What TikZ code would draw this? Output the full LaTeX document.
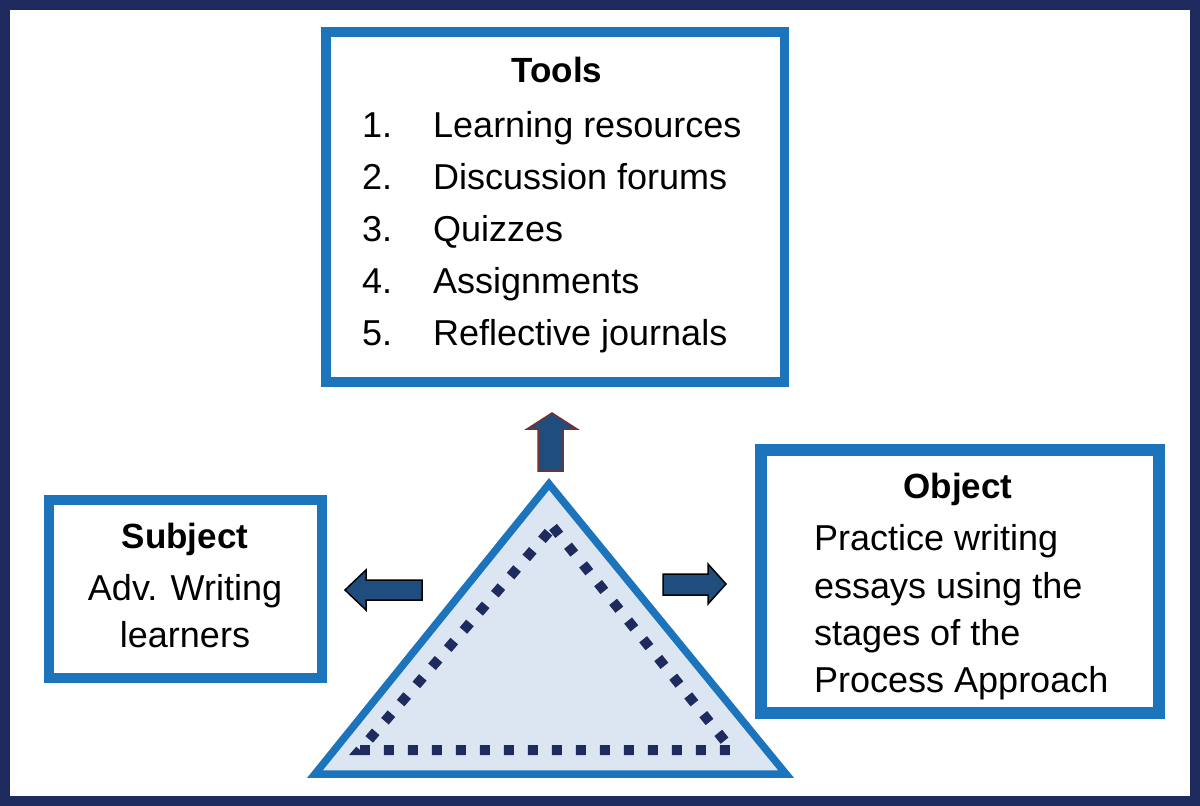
\documentclass[tikz,border=0pt]{standalone}
\usepackage{fontspec}
\setmainfont{Liberation Sans}
\definecolor{frame}{HTML}{1F2A5E}
\definecolor{boxblue}{HTML}{1C74BC}
\definecolor{trifill}{HTML}{DCE6F2}
\definecolor{dotnavy}{HTML}{1F2A5E}
\definecolor{arrfill}{HTML}{1F4E7E}
\definecolor{arrred}{HTML}{7A2E2E}
\tikzset{
  bluebox/.style={draw=boxblue, line join=miter},
  txt/.style={inner sep=0pt, font=\fontsize{36}{40}\selectfont},
  ttl/.style={inner sep=0pt, font=\fontsize{35}{40}\selectfont\bfseries},
  blockarrow/.style={fill=arrfill, line width=1.5pt, line join=miter},
}
\begin{document}
\begin{tikzpicture}[x=1pt,y=-1pt]
\useasboundingbox (0,0) rectangle (1200,806);
% outer frame
\draw[frame, line width=10pt] (5,5) rectangle (1195,801);
% boxes
\draw[bluebox, line width=9.5pt] (326,32) rectangle (784.5,382);
\draw[bluebox, line width=10pt] (49,500) rectangle (322,678);
\draw[bluebox, line width=12.5pt] (761,450) rectangle (1159,713);
% triangle
\coordinate (apex) at (549,484);
\coordinate (bl) at (315,774);
\coordinate (br) at (786,774);
\draw[boxblue, fill=trifill, line width=7.5pt, line join=miter] (apex) -- (bl) -- (br) -- cycle;
\coordinate (dapex) at (553,527);
\coordinate (dbl) at (360,750);
\coordinate (dbr) at (732,750);
\draw[dotnavy, line width=10pt, dash pattern=on 10pt off 14pt, line join=miter] (dapex) -- (dbr) -- (dbl) -- cycle;
% up arrow
\draw[blockarrow, draw=arrred] (552,413) -- (577,429) -- (563,429) -- (563,471) -- (538,471) -- (538,429) -- (527,429) -- cycle;
% left arrow
\draw[blockarrow, draw=black] (345,590) -- (366,570) -- (366,580) -- (422,580) -- (422,600) -- (366,600) -- (366,610) -- cycle;
% right arrow
\draw[blockarrow, draw=black] (726,584) -- (708,564) -- (708,574) -- (663,574) -- (663,595) -- (708,595) -- (708,604) -- cycle;
% Tools text
\node[ttl, anchor=base] (tt) at (557,82) {Tools};
\node[txt, anchor=base west] (n1) at (362,137) {1.};
\node[txt, anchor=base west] (n2) at (362,189) {2.};
\node[txt, anchor=base west] (n3) at (362,241) {3.};
\node[txt, anchor=base west] (n4) at (362,293) {4.};
\node[txt, anchor=base west] (n5) at (362,345) {5.};
\node[txt, anchor=base west] (t1) at (433,137) {Learning resources};
\node[txt, anchor=base west] (t2) at (433,189) {Discussion forums};
\node[txt, anchor=base west] (t3) at (433,241) {Quizzes};
\node[txt, anchor=base west] (t4) at (433,293) {Assignments};
\node[txt, anchor=base west] (t5) at (433,345) {Reflective journals};
% Subject
\node[ttl, anchor=base] (st) at (185,548) {Subject};
\node[txt, anchor=base] (s1) at (185,600) {Adv. Writing};
\node[txt, anchor=base] (s2) at (185,647) {learners};
% Object
\node[ttl, anchor=base] (ot) at (958,498) {Object};
\node[txt, anchor=base west] (o1) at (814,550) {Practice writing};
\node[txt, anchor=base west] (o2) at (814,598) {essays using the};
\node[txt, anchor=base west] (o3) at (814,645) {stages of the};
\node[txt, anchor=base west] (o4) at (814,692) {Process Approach};
\end{tikzpicture}
\end{document}
